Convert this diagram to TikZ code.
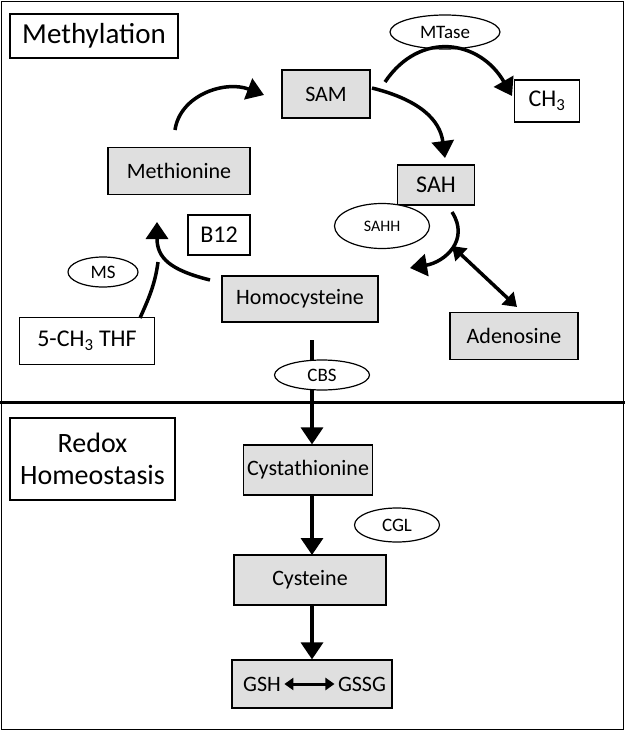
\documentclass[tikz,border=0pt]{standalone}
\usepackage{fontspec}
\setmainfont{Carlito}
\usetikzlibrary{arrows.meta,shapes.geometric}
\begin{document}
\begin{tikzpicture}[x=1pt,y=-1pt,
  gbox/.style={draw,very thick,fill=gray!25,minimum height=46pt,font=\fontsize{22}{24}\selectfont},
  wbox/.style={draw,very thick,fill=white,font=\fontsize{24}{26}\selectfont},
  enz/.style={draw,very thick,ellipse,fill=white,inner sep=1pt,font=\fontsize{19}{21}\selectfont},
  arr/.style={line width=3.5pt,-{Triangle[length=17pt,width=22pt]}}]
\useasboundingbox (0,0) rectangle (625,731);
\draw[very thick] (1.5,1.5) rectangle (623.5,729.5);
\draw[line width=3pt] (0,402) -- (625,402);
\node[wbox,minimum width=168pt,minimum height=44pt,font=\fontsize{29}{31}\selectfont] (meth) at (94,36) {Methylation};
\node[wbox,minimum width=165pt,minimum height=82pt,align=center,font=\fontsize{28}{32}\selectfont] (redox) at (92.5,459) {Redox\\Homeostasis};
\node[gbox,minimum width=88pt,minimum height=48pt] (sam) at (326,94) {SAM};
\node[wbox,minimum width=65pt,minimum height=42pt] (ch3) at (547,101) {CH\textsubscript{3}};
\node[gbox,minimum width=142pt,minimum height=47pt] (met) at (179,171) {Methionine};
\node[gbox,minimum width=77pt,minimum height=40pt,font=\fontsize{24}{26}\selectfont] (sah) at (436,185) {SAH};
\node[wbox,minimum width=62pt,minimum height=40pt] (b12) at (219,235) {B12};
\node[gbox,minimum width=156pt] (hcy) at (300,299) {Homocysteine};
\node[gbox,minimum width=128pt,minimum height=47pt] (ado) at (514,336) {Adenosine};
\node[wbox,minimum width=135pt,minimum height=47pt] (thf) at (87,341) {5-CH\textsubscript{3} THF};
\node[enz,minimum width=110pt,minimum height=34pt] (mtase) at (445,32) {MTase};
\node[enz,minimum width=95pt,minimum height=45pt,font=\fontsize{16}{18}\selectfont] (sahh) at (382,226) {SAHH};
\node[enz,minimum width=70pt,minimum height=30pt] (ms) at (103,272) {MS};
\node[gbox,minimum width=129pt,minimum height=50pt] (cyst) at (308,470) {Cystathionine};
\node[enz,minimum width=85pt,minimum height=34pt] (cgl) at (397,525) {CGL};
\node[gbox,minimum width=152pt,minimum height=50pt] (cys) at (310,580) {Cysteine};
\node[gbox,minimum width=160pt,minimum height=48pt] (gsh) at (312,684) {};
\node[font=\fontsize{22}{24}\selectfont] (g1) at (262,684) {GSH};
\node[font=\fontsize{22}{24}\selectfont] (g2) at (362,684) {GSSG};
\draw[line width=3pt,{Triangle[length=9pt,width=12pt]}-{Triangle[length=9pt,width=12pt]}] (g1) -- (g2);
% arrows
\coordinate (a1) at (175,130); \coordinate (a2) at (264,95);
\draw[arr] (a1) .. controls (180,95) and (225,80) .. (a2);
\coordinate (b1) at (372,88); \coordinate (b2) at (445,158);
\draw[arr] (b1) .. controls (420,100) and (440,120) .. (b2);
\coordinate (c1) at (385,82); \coordinate (c2) at (512,96);
\draw[arr] (c1) .. controls (420,30) and (480,40) .. (c2);
\coordinate (d1) at (452,212); \coordinate (d2) at (410,268);
\draw[arr] (d1) .. controls (470,240) and (445,262) .. (d2);
\draw[line width=3.5pt,{Triangle[length=13pt,width=17pt]}-{Triangle[length=13pt,width=17pt]}] (452,246) -- (517,307);
\coordinate (e1) at (210,280); \coordinate (e2) at (157,222);
\draw[arr] (e1) .. controls (170,270) and (157,258) .. (e2);
\draw[line width=3.5pt] (140,318) .. controls (148,300) and (155,285) .. (158,262);
\coordinate (h1) at (312,340);
\draw[arr] (h1) -- (h1 |- cyst.north);
\node[enz,minimum width=95pt,minimum height=30pt] (cbs) at (322,375) {CBS};
\draw[arr] (312,495) -- (312,555);
\draw[arr] (312,605) -- (gsh.north -| 312,0);
\end{tikzpicture}
\end{document}
